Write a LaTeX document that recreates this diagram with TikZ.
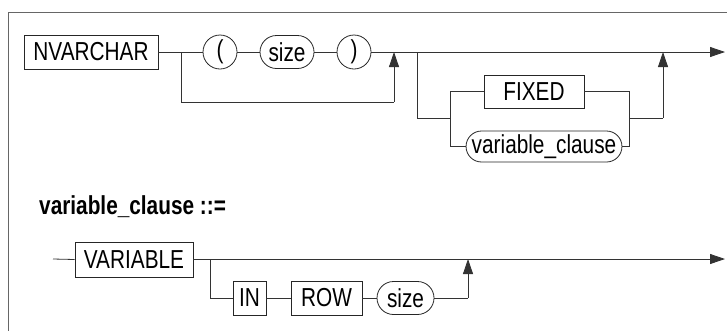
\documentclass[tikz,border=0pt]{standalone}
\usepackage{fontspec}
\setmainfont{Liberation Sans}[FakeStretch=0.8]
\usetikzlibrary{arrows.meta,shapes.misc,shapes.geometric}
\begin{document}
\begin{tikzpicture}[x=1pt,y=-1pt,
  every node/.style={font=\fontsize{26}{29}\selectfont, inner sep=0pt, text=black},
  termbox/.style={draw=black!85, line width=0.8pt, rectangle, minimum height=34pt},
  ovalbox/.style={draw=black!85, line width=0.8pt, rounded rectangle, minimum height=33pt},
  circbox/.style={draw=black!85, line width=0.8pt, circle, minimum size=34pt},
  conn/.style={draw=black!80, line width=0.8pt},
  arr/.style={conn, -{Triangle[length=15pt,width=10pt]}},
  frameline/.style={draw=black!60, line width=0.8pt}
]
\useasboundingbox (0,0) rectangle (727,330);
% frame
\draw[frameline] (8,345) -- (8,12.5) -- (740,12.5);

% top diagram
\node[termbox, minimum width=134pt] (nvarchar) at (91,52) {NVARCHAR};
\node[circbox] (lp) at (220,52) {(};
\node[ovalbox, minimum width=54pt] (size1) at (287,52) {size};
\node[circbox] (rp) at (354,52) {)};
\node[termbox, minimum width=100pt, minimum height=33pt] (fixed) at (534,91.5) {FIXED};
\node[ovalbox, minimum width=152pt, minimum height=31pt] (varcl) at (544,146.5) {variable\_clause};

\coordinate (b1) at (181,52);
\coordinate (b1d) at (181,102);
\coordinate (j1d) at (394,102);
\coordinate (j1) at (394,52);
\coordinate (b2) at (417,52);
\coordinate (b2d) at (417,118);
\coordinate (s2) at (450,118);
\coordinate (s2t) at (450,91.5);
\coordinate (s2b) at (450,146.5);
\coordinate (m2t) at (629,91.5);
\coordinate (m2b) at (629,146.5);
\coordinate (m2) at (629,118);
\coordinate (j2d) at (663,118);
\coordinate (j2) at (663,52);
\coordinate (end1) at (725,52);

\draw[conn] (nvarchar.east) -- (lp.west);
\draw[conn] (lp.east) -- (size1.west);
\draw[conn] (size1.east) -- (rp.west);
\draw[arr] (rp.east) -- (end1);
\draw[conn] (b1) -- (b1d) -- (j1d);
\draw[arr] (j1d) -- (j1);
\draw[conn] (b2) -- (b2d) -- (s2);
\draw[conn] (s2t) -- (s2b);
\draw[conn] (s2t) -- (fixed.west);
\draw[conn] (s2b) -- (varcl.west);
\draw[conn] (fixed.east) -- (m2t) -- (m2b) -- (varcl.east);
\draw[conn] (m2) -- (j2d);
\draw[arr] (j2d) -- (j2);

% heading
\node[anchor=base west, font=\fontsize{26}{29}\selectfont\bfseries] (head) at (39,214) {variable\_clause ::=};

% bottom diagram
\coordinate (start2) at (53,259);
\node[termbox, minimum width=118pt, minimum height=35pt] (variable) at (134,259.5) {VARIABLE};
\node[termbox, minimum width=33pt] (in) at (249.5,298) {IN};
\node[termbox, minimum width=71pt] (row) at (326.5,298) {ROW};
\node[ovalbox, minimum width=57pt] (size2) at (405.5,298) {size};
\coordinate (b3) at (210,259);
\coordinate (b3d) at (210,298);
\coordinate (j3d) at (468,298);
\coordinate (j3) at (468,259);
\coordinate (end2) at (725,259);

\draw[conn] (start2) -- (variable.west);
\draw[arr] (variable.east |- b3) -- (end2);
\draw[conn] (b3) -- (b3d) -- (in.west);
\draw[conn] (in.east) -- (row.west);
\draw[conn] (row.east) -- (size2.west);
\draw[conn] (size2.east) -- (j3d);
\draw[arr] (j3d) -- (j3);
\end{tikzpicture}
\end{document}
